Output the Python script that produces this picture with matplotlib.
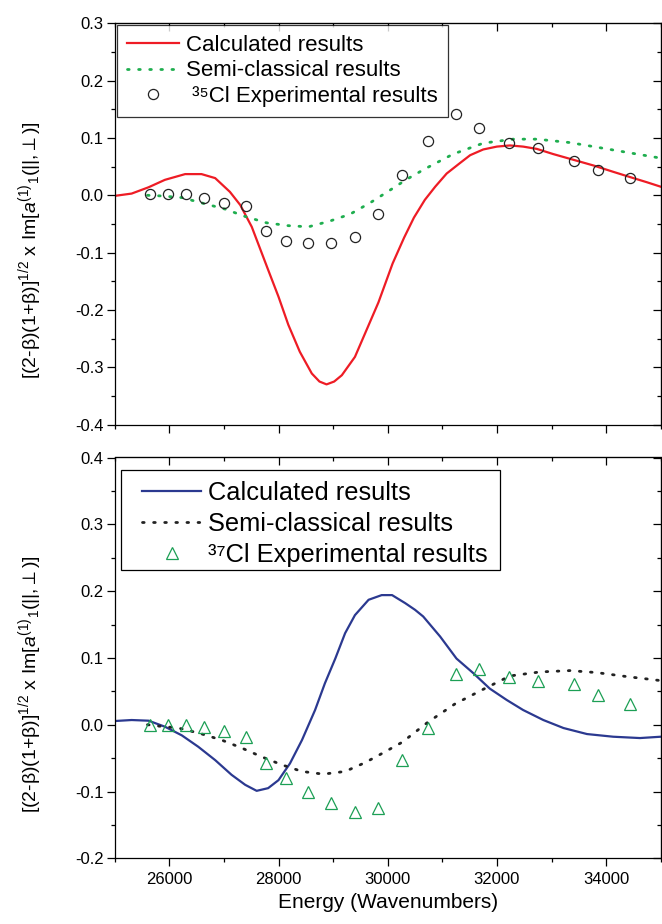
import matplotlib
matplotlib.use("Agg")
import matplotlib.pyplot as plt
from matplotlib.patches import Rectangle
from matplotlib.transforms import IdentityTransform
from matplotlib.ticker import MultipleLocator, FormatStrFormatter

plt.rcParams['font.family'] = ['Liberation Sans', 'DejaVu Sans']
plt.rcParams['mathtext.fontset'] = 'custom'
plt.rcParams['mathtext.rm'] = 'Liberation Sans'
plt.rcParams['mathtext.it'] = 'Liberation Sans:italic'
plt.rcParams['mathtext.bf'] = 'Liberation Sans:bold'
plt.rcParams['mathtext.fallback'] = 'stixsans'
plt.rcParams['axes.unicode_minus'] = False

# ---------------- data ----------------
exp_E = [25640, 25970, 26310, 26630, 27000, 27400, 27780, 28140, 28540, 28960,
         29410, 29820, 30270, 30740, 31250, 31670, 32220, 32750, 33410, 33860, 34440]

# top panel (35Cl)
exp35 = [0.002, 0.002, 0.002, -0.005, -0.013, -0.019, -0.063, -0.080, -0.084, -0.084,
         -0.073, -0.033, 0.035, 0.095, 0.142, 0.117, 0.092, 0.082, 0.060, 0.045, 0.031]

calc35_E = [25000, 25310, 25620, 25920, 26290, 26590, 26840, 27110, 27300, 27510,
            27810, 28000, 28180, 28390, 28610, 28750, 28880, 29020, 29160, 29400,
            29640, 29830, 30090, 30300, 30480, 30680, 30870, 31080, 31320, 31510,
            31750, 32000, 32240, 32480, 32730, 33030, 33400, 33770, 34130, 34500,
            34740, 35000]
calc35 = [-0.001, 0.003, 0.014, 0.027, 0.037, 0.037, 0.030, 0.006, -0.017, -0.055,
          -0.130, -0.177, -0.226, -0.273, -0.311, -0.325, -0.330, -0.325, -0.314, -0.282,
          -0.229, -0.187, -0.119, -0.074, -0.039, -0.008, 0.015, 0.038, 0.056, 0.070,
          0.080, 0.085, 0.087, 0.085, 0.081, 0.072, 0.062, 0.052, 0.041, 0.030,
          0.023, 0.015]

semi35_E = [25600, 25830, 26230, 26620, 27020, 27390, 27780, 28180, 28550, 28940,
            29310, 29680, 30010, 30350, 30680, 31200, 31750, 32300, 32730, 33340,
            33890, 34500, 34930, 35000]
semi35 = [0.000, -0.001, -0.004, -0.014, -0.024, -0.037, -0.048, -0.053, -0.055, -0.045,
          -0.033, -0.013, 0.007, 0.028, 0.046, 0.072, 0.091, 0.098, 0.098, 0.092,
          0.083, 0.073, 0.066, 0.064]

# bottom panel (37Cl)
exp37 = [0.000, 0.000, 0.000, -0.003, -0.010, -0.018, -0.057, -0.080, -0.100, -0.117,
         -0.131, -0.125, -0.053, -0.005, 0.076, 0.083, 0.071, 0.065, 0.061, 0.044, 0.031]

calc37_E = [25000, 25310, 25620, 25920, 26230, 26530, 26840, 27140, 27390, 27600,
            27810, 28000, 28210, 28430, 28670, 28850, 29040, 29220, 29400, 29650,
            29890, 30080, 30320, 30500, 30650, 30960, 31260, 31570, 31870, 32180,
            32480, 32850, 33220, 33650, 34130, 34620, 35000]
calc37 = [0.0055, 0.007, 0.006, -0.003, -0.016, -0.033, -0.053, -0.075, -0.090, -0.099,
          -0.095, -0.083, -0.058, -0.023, 0.022, 0.062, 0.099, 0.137, 0.164, 0.187,
          0.194, 0.194, 0.182, 0.172, 0.162, 0.132, 0.099, 0.077, 0.054, 0.037,
          0.022, 0.007, -0.005, -0.014, -0.018, -0.020, -0.018]

semi37_E = [25600, 25800, 26170, 26560, 26960, 27330, 27690, 28060, 28430, 28820,
            29220, 29580, 29920, 30270, 30740, 31230, 31750, 32240, 32790, 33340,
            33830, 34380, 34800, 35000]
semi37 = [0.000, -0.002, -0.005, -0.013, -0.023, -0.035, -0.048, -0.060, -0.070, -0.074,
          -0.070, -0.057, -0.042, -0.026, 0.004, 0.031, 0.053, 0.073, 0.079, 0.081,
          0.078, 0.072, 0.068, 0.066]

legend_top = ['Calculated results', 'Semi-classical results', ' ³⁵Cl Experimental results']
legend_bot = ['Calculated results', 'Semi-classical results', '³⁷Cl Experimental results']
ylabel = r'[(2-β)(1+β)]$^{1/2}$ x Im[$a^{(1)}{}_{1}$(||,$\perp$)]'
xlabel = 'Energy (Wavenumbers)'

# ---------------- figure ----------------
W, H = 662, 924
fig = plt.figure(figsize=(W / 100, H / 100), dpi=100)
L = 114.7 / W
Wd = 546 / W
ax1 = fig.add_axes([L, 1 - 424.5 / H, Wd, 401.1 / H])
ax2 = fig.add_axes([L, 1 - 858.3 / H, Wd, 400.8 / H])

red = '#ee1c25'
green_dot = '#1fae4f'
green_tri = '#1c9f55'
blue = '#2b3990'

ax1.plot(calc35_E, calc35, color=red, lw=1.6, label=legend_top[0])
ax1.plot(semi35_E, semi35, color=green_dot, lw=2.0, linestyle=(0, (0.6, 3.4)),
         dash_capstyle='round', label=legend_top[1])
ax1.plot(exp_E, exp35, linestyle='none', marker='o', ms=7.3, mfc='none', mec='#222222',
         mew=0.9, label=legend_top[2])

ax2.plot(calc37_E, calc37, color=blue, lw=1.6, label=legend_bot[0])
ax2.plot(semi37_E, semi37, color='#222222', lw=2.0, linestyle=(0, (0.6, 3.4)),
         dash_capstyle='round', label=legend_bot[1])
ax2.plot(exp_E, exp37, linestyle='none', marker='^', ms=8.5, mfc='none', mec=green_tri,
         mew=0.9, label=legend_bot[2])

for ax, ylim in ((ax1, (-0.4, 0.3)), (ax2, (-0.2, 0.4))):
    ax.set_xlim(25000, 35000)
    ax.set_ylim(*ylim)
    ax.xaxis.set_major_locator(MultipleLocator(2000))
    ax.xaxis.set_minor_locator(MultipleLocator(1000))
    ax.yaxis.set_major_locator(MultipleLocator(0.1))
    ax.yaxis.set_minor_locator(MultipleLocator(0.05))
    ax.yaxis.set_major_formatter(FormatStrFormatter('%.1f'))
    ax.tick_params(which='major', direction='out', length=6, width=0.9, labelsize=12, pad=2)
    ax.tick_params(which='minor', direction='out', length=3, width=0.9)
    for s in ax.spines.values():
        s.set_linewidth(0.9)
    sx = ax.secondary_xaxis('top')
    sx.xaxis.set_major_locator(MultipleLocator(2000))
    sx.xaxis.set_minor_locator(MultipleLocator(1000))
    sx.tick_params(which='major', direction='in', length=6, width=0.9, labeltop=False)
    sx.tick_params(which='minor', direction='in', length=3, width=0.9)
    sy = ax.secondary_yaxis('right')
    sy.yaxis.set_major_locator(MultipleLocator(0.1))
    sy.yaxis.set_minor_locator(MultipleLocator(0.05))
    sy.tick_params(which='major', direction='in', length=6, width=0.9, labelright=False)
    sy.tick_params(which='minor', direction='in', length=3, width=0.9)
    ax.set_ylabel(ylabel, fontsize=14)
    ax.yaxis.set_label_coords(-0.129, 0.435)

ax1.tick_params(axis='x', labelbottom=False)
ax2.tick_params(axis='x', labelsize=12, pad=4)
ax2.set_xlabel(xlabel, fontsize=15, labelpad=4)

leg1 = ax1.legend(loc='upper left', bbox_to_anchor=(0.004, 0.996), borderaxespad=0,
                  fontsize=16, frameon=True, fancybox=False, edgecolor='black',
                  handlelength=2.35, handletextpad=0.3, labelspacing=0.2, borderpad=0.45)
leg1.get_frame().set_linewidth(0.9)
shift = 10  # extra left padding of the lower legend box, px
leg2 = ax2.legend(loc='upper left', bbox_to_anchor=(0.0115 + shift / 546, 0.969),
                  borderaxespad=0, fontsize=18.3, frameon=True, fancybox=False,
                  edgecolor='black', handlelength=2.3, handletextpad=0.3,
                  labelspacing=0.26, borderpad=0.45)
leg2.get_frame().set_linewidth(0.9)

# custom frame for the lower legend: extra left padding, trimmed bottom descent
fig.canvas.draw()
bb = leg2.get_window_extent(fig.canvas.get_renderer())
trim = 8
leg2.set_frame_on(False)
leg2.set_zorder(5)
frame = Rectangle((bb.x0 - shift, bb.y0 + trim), bb.width + shift, bb.height - trim,
                  transform=IdentityTransform(), facecolor='white', edgecolor='black',
                  lw=0.9, zorder=4.9, clip_on=False)
ax2.add_artist(frame)

fig.savefig('out.png', dpi=100)
